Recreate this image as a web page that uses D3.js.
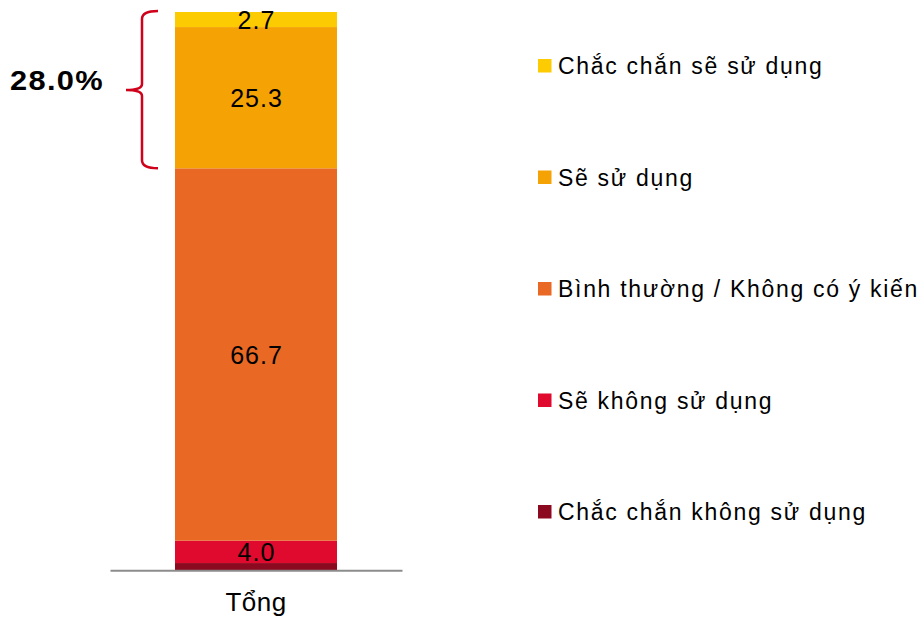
<!DOCTYPE html>
<html>
<head>
<meta charset="utf-8">
<script src="https://cdn.jsdelivr.net/npm/d3@7"></script>
<style>
  html, body { margin: 0; padding: 0; background: #fff; }
  svg { display: block; font-family: Arial, "Liberation Sans", sans-serif; }
</style>
</head>
<body>
<svg id="chart" width="921" height="617"></svg>
<script>
// Survey answers, stacked bottom to top
const categories = ["Tổng"];
const seriesNames = [
  "Chắc chắn không sử dụng",
  "Sẽ không sử dụng",
  "Bình thường / Không có ý kiến",
  "Sẽ sử dụng",
  "Chắc chắn sẽ sử dụng"
];
const seriesValues = [1.3, 4.0, 66.7, 25.3, 2.7];
const seriesColors = ["#8C0A1F", "#E0092E", "#E86824", "#F5A205", "#FDCB02"];
const showLabel = [false, true, true, true, true];
// Series summed under the brace
const bracedSeries = ["Sẽ sử dụng", "Chắc chắn sẽ sử dụng"];

const svg = d3.select("#chart");

const y = d3.scaleLinear().domain([0, 100]).range([570.3, 12]);
const x = d3.scaleBand().domain(categories).range([110, 402]).paddingInner(0.2863).paddingOuter(0.2863);

// stacked segments
const rows = [Object.fromEntries([["cat", categories[0]], ...seriesNames.map((n, i) => [n, seriesValues[i]])])];
const stacked = d3.stack().keys(seriesNames)(rows);

const g = svg.append("g");
stacked.forEach((layer, i) => {
  layer.forEach(d => {
    g.append("rect")
      .attr("x", x(d.data.cat))
      .attr("width", x.bandwidth())
      .attr("y", y(d[1]))
      .attr("height", y(d[0]) - y(d[1]))
      .attr("fill", seriesColors[i]);
    if (showLabel[i]) {
      g.append("text")
        .attr("x", x(d.data.cat) + x.bandwidth() / 2 + 0.5)
        .attr("y", (y(d[0]) + y(d[1])) / 2)
        .attr("dy", "0.36em")
        .attr("text-anchor", "middle")
        .attr("font-size", 25)
        .attr("letter-spacing", 1)
        .attr("fill", "#000")
        .text(seriesValues[i].toFixed(1));
    }
  });
});

// category axis
const xAxis = svg.append("g")
  .attr("transform", `translate(0,${y(0)})`)
  .call(d3.axisBottom(x).tickSize(0).tickPadding(22));
xAxis.select(".domain").attr("stroke", "#8c8c8c").attr("stroke-width", 2);
xAxis.selectAll(".tick text")
  .attr("font-size", 26)
  .attr("letter-spacing", 0.5)
  .attr("font-family", "Arial, 'Liberation Sans', sans-serif")
  .attr("fill", "#000");

// brace around the "will use" group
const bracedTotal = d3.sum(bracedSeries.map(n => seriesValues[seriesNames.indexOf(n)]));
const braceTop = y(d3.sum(seriesValues)) - 1;
const braceBot = y(d3.sum(seriesValues) - bracedTotal);
const braceMid = 90;
const bx = 142, bEnd = 158, bTip = 126;
const bracePath = [
  `M${bEnd},${braceTop}`,
  `Q${bx},${braceTop} ${bx},${braceTop + 8}`,
  `L${bx},${braceMid - 6}`,
  `Q${bx},${braceMid} ${bTip},${braceMid}`,
  `Q${bx},${braceMid} ${bx},${braceMid + 6}`,
  `L${bx},${braceBot - 8}`,
  `Q${bx},${braceBot} ${bEnd},${braceBot}`
].join(" ");
svg.append("path")
  .attr("d", bracePath)
  .attr("fill", "none")
  .attr("stroke", "#D0021B")
  .attr("stroke-width", 2.5);

// group total, slightly widened bold face
svg.append("text")
  .attr("transform", "translate(10,90) scale(1.1,1)")
  .attr("font-size", 28)
  .attr("font-weight", "bold")
  .attr("letter-spacing", 1.2)
  .attr("fill", "#000")
  .text(bracedTotal.toFixed(1) + "%");

// legend, top entry first
const legendOrder = seriesNames.map((n, i) => i).reverse();
const legend = svg.append("g");
legendOrder.forEach((si, k) => {
  const base = 74 + k * 111.5;
  legend.append("rect")
    .attr("x", 538)
    .attr("y", base - 15)
    .attr("width", 13.5)
    .attr("height", 13.5)
    .attr("fill", seriesColors[si]);
  legend.append("text")
    .attr("x", 558)
    .attr("y", base)
    .attr("font-size", 23)
    .attr("letter-spacing", 1.7)
    .attr("fill", "#000")
    .text(seriesNames[si]);
});
</script>
</body>
</html>
